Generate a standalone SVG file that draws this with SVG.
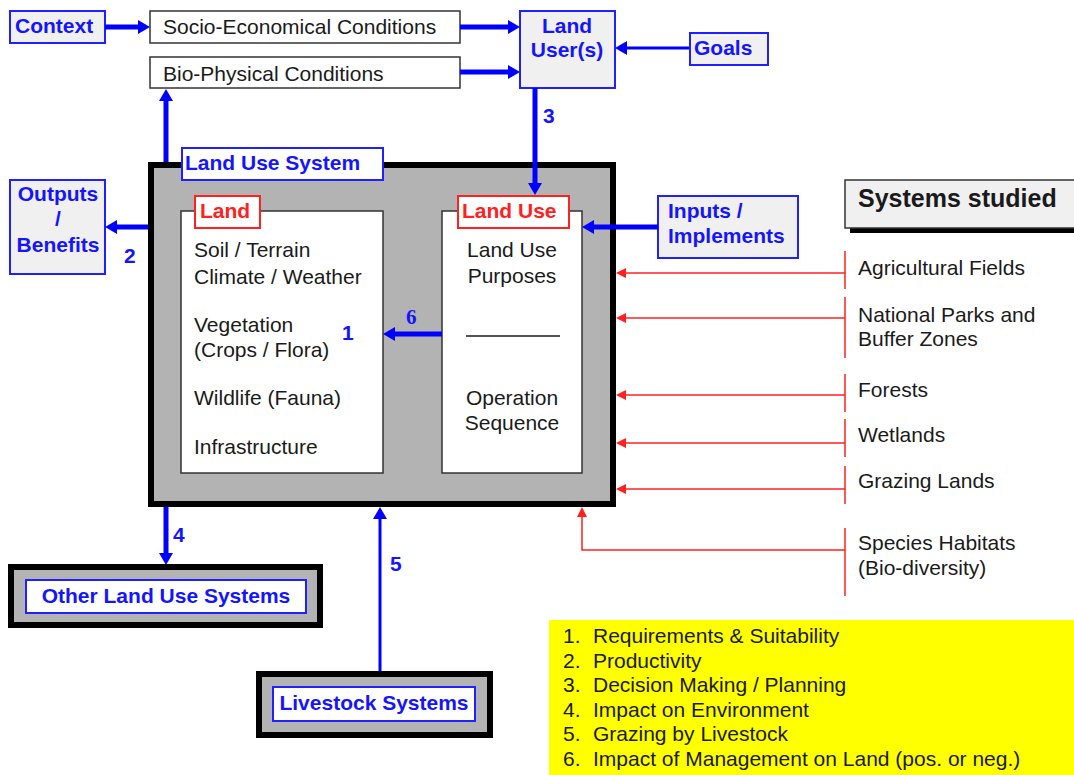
<svg xmlns="http://www.w3.org/2000/svg" width="1074" height="775" viewBox="0 0 1074 775">
<style>
text{font-family:"Liberation Sans",Arial,sans-serif;font-size:21px;fill:#1a1a1a}
.b{font-weight:bold;fill:#1414ff}
.r{font-weight:bold;fill:#ff2020}
.m{text-anchor:middle}
.bbox{fill:#f0f0f0;stroke:#1f1fff;stroke-width:2}
.wbox{fill:#fff;stroke:#1f1fff;stroke-width:2}
.gbox{fill:#fff;stroke:#333;stroke-width:1.5}
.sys{fill:#b3b3b3;stroke:#000;stroke-width:6}
.rl{fill:#fff;stroke:#ff2020;stroke-width:2}
.ba{stroke:#0000ff;stroke-width:5;fill:none;marker-end:url(#ab)}
.bt{stroke:#0000ff;stroke-width:3;fill:none;marker-end:url(#ab)}
.ra{stroke:#ff2020;stroke-width:1.5;fill:none;marker-end:url(#ar)}
.rv{stroke:#ff2020;stroke-width:1.5}
</style>
<defs>
<marker id="ab" viewBox="0 0 12 14" refX="2" refY="7" markerWidth="12" markerHeight="14" markerUnits="userSpaceOnUse" orient="auto"><path d="M0,0 L12,7 L0,14 z" fill="#0000ff"/></marker>
<marker id="ar" viewBox="0 0 10 10" refX="2" refY="5" markerWidth="10" markerHeight="10" markerUnits="userSpaceOnUse" orient="auto"><path d="M0,0 L10,5 L0,10 z" fill="#ff2020"/></marker>
</defs>
<rect x="549" y="620" width="525" height="155" fill="#ffff00"/>
<g id="context"><rect class="bbox" x="10" y="11" width="95" height="32"/><text class="b" x="15" y="33">Context</text></g>
<g id="socio"><rect class="gbox" x="150" y="11" width="310" height="32"/><text x="163" y="34">Socio-Economical Conditions</text></g>
<g id="bio"><rect class="gbox" x="150" y="57" width="310" height="31"/><text x="163" y="81">Bio-Physical Conditions</text></g>
<g id="landuser"><rect class="bbox" x="520" y="11" width="95" height="77"/><text class="b m" x="567" y="33">Land</text><text class="b m" x="567" y="57">User(s)</text></g>
<g id="goals"><rect class="bbox" x="690" y="33" width="78" height="32"/><text class="b" x="694" y="55">Goals</text></g>
<g id="outputs"><rect class="bbox" x="10" y="180" width="95" height="94"/><text class="b m" x="58" y="201">Outputs</text><text class="b m" x="58" y="226">/</text><text class="b m" x="58" y="252">Benefits</text></g>
<g id="system">
<rect class="sys" x="151" y="165" width="462" height="339"/>
<rect class="wbox" x="182" y="148" width="201" height="32"/>
<text class="b" x="185" y="170">Land Use System</text>
</g>
<g id="land">
<rect class="gbox" x="181" y="211" width="202" height="262"/>
<rect class="rl" x="195" y="196" width="65" height="32"/>
<text class="r" x="200" y="218">Land</text>
<text x="194" y="257">Soil / Terrain</text>
<text x="194" y="284">Climate / Weather</text>
<text x="194" y="332">Vegetation</text>
<text x="194" y="357">(Crops / Flora)</text>
<text x="194" y="405">Wildlife (Fauna)</text>
<text x="194" y="454">Infrastructure</text>
</g>
<g id="landuse">
<rect class="gbox" x="442" y="211" width="140" height="262"/>
<rect class="rl" x="458" y="196" width="111" height="32"/>
<text class="r" x="462" y="218">Land Use</text>
<text class="m" x="512" y="257">Land Use</text>
<text class="m" x="512" y="283">Purposes</text>
<line x1="466" y1="336" x2="560" y2="336" stroke="#1a1a1a" stroke-width="1.5"/>
<text class="m" x="512" y="405">Operation</text>
<text class="m" x="512" y="430">Sequence</text>
</g>
<g id="inputs"><rect class="bbox" x="658" y="196" width="140" height="62"/><text class="b" x="668" y="218">Inputs /</text><text class="b" x="668" y="243">Implements</text></g>
<g id="systems-studied">
<rect x="850" y="185" width="230" height="48" fill="#000"/>
<rect x="845" y="180" width="235" height="48" fill="#f0f0f0" stroke="#333" stroke-width="1.5"/>
<text x="858" y="207" style="font-weight:bold;font-size:25px">Systems studied</text>
</g>
<g id="studied-list">
<text x="858" y="275">Agricultural Fields</text>
<text x="858" y="322">National Parks and</text>
<text x="858" y="346">Buffer Zones</text>
<text x="858" y="397">Forests</text>
<text x="858" y="442">Wetlands</text>
<text x="858" y="488">Grazing Lands</text>
<text x="858" y="550">Species Habitats</text>
<text x="858" y="575">(Bio-diversity)</text>
</g>
<g id="other"><rect class="sys" x="11" y="567" width="309" height="58"/><rect class="wbox" x="26" y="580" width="280" height="33" stroke-width="1.5"/><text class="b m" x="166" y="603">Other Land Use Systems</text></g>
<g id="livestock"><rect class="sys" x="259" y="674" width="231" height="61"/><rect class="wbox" x="273" y="687" width="202" height="34" stroke-width="1.5"/><text class="b m" x="374" y="710">Livestock Systems</text></g>
<g id="legend">
<text x="563" y="643">1.</text><text x="593" y="643">Requirements &amp; Suitability</text>
<text x="563" y="668">2.</text><text x="593" y="668">Productivity</text>
<text x="563" y="692">3.</text><text x="593" y="692">Decision Making / Planning</text>
<text x="563" y="717">4.</text><text x="593" y="717">Impact on Environment</text>
<text x="563" y="741">5.</text><text x="593" y="741">Grazing by Livestock</text>
<text x="563" y="766">6.</text><text x="593" y="766">Impact of Management on Land (pos. or neg.)</text>
</g>
<g id="connectors">
<line class="ba" x1="105" y1="27" x2="140" y2="27"/>
<line class="ba" x1="460" y1="27" x2="510" y2="27"/>
<line class="ba" x1="460" y1="72" x2="510" y2="72"/>
<line class="bt" x1="689" y1="48" x2="625" y2="48"/>
<line class="ba" x1="535" y1="88" x2="535" y2="185"/>
<line class="ba" x1="166" y1="162" x2="166" y2="99"/>
<line class="ba" x1="148" y1="227" x2="115" y2="227"/>
<line class="ba" x1="442" y1="334" x2="393" y2="334"/>
<line class="ba" x1="658" y1="227" x2="592" y2="227"/>
<line class="ba" x1="166" y1="507" x2="166" y2="555"/>
<line class="bt" x1="380" y1="671" x2="380" y2="517"/>
<line class="ra" x1="845" y1="273" x2="624" y2="273"/>
<line class="ra" x1="845" y1="318" x2="624" y2="318"/>
<line class="ra" x1="845" y1="395" x2="624" y2="395"/>
<line class="ra" x1="845" y1="443" x2="624" y2="443"/>
<line class="ra" x1="845" y1="489" x2="624" y2="489"/>
<polyline class="ra" points="845,550 582,550 582,515"/>
<line class="rv" x1="845" y1="251" x2="845" y2="289"/>
<line class="rv" x1="845" y1="297" x2="845" y2="358"/>
<line class="rv" x1="845" y1="374" x2="845" y2="412"/>
<line class="rv" x1="845" y1="419" x2="845" y2="457"/>
<line class="rv" x1="845" y1="466" x2="845" y2="504"/>
<line class="rv" x1="845" y1="528" x2="845" y2="596"/>
<text class="b" x="543" y="123">3</text>
<text class="b" x="124" y="263">2</text>
<text class="b" x="342" y="340">1</text>
<text class="b" x="406" y="324" style="font-family:'Liberation Serif',serif">6</text>
<text class="b" x="173" y="542">4</text>
<text class="b" x="390" y="571">5</text>
</g>
</svg>
